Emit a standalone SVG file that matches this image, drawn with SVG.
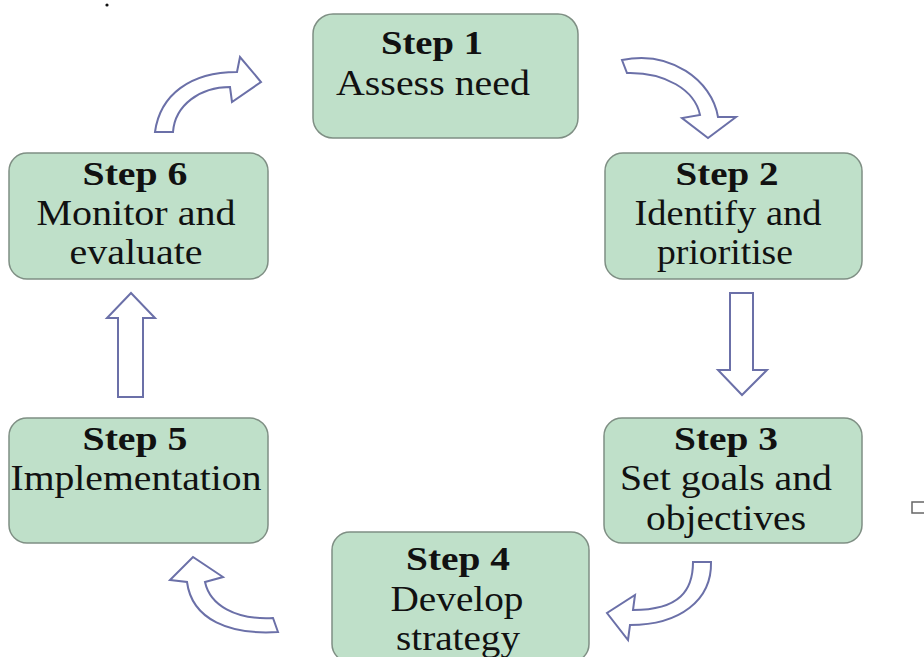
<svg xmlns="http://www.w3.org/2000/svg" width="924" height="657" viewBox="0 0 924 657">
<style>
.box{fill:#bfe0c9;stroke:#7f8f84;stroke-width:1.5}
.t{font-family:"Liberation Serif","Times New Roman",serif;fill:#111;text-anchor:middle}
.h{font-weight:bold;font-size:33px}
.r{font-size:36px}
.arr{fill:#fff;stroke:#6b70a8;stroke-width:2;stroke-linejoin:miter}
</style>
<rect width="924" height="657" fill="#fff"/>
<circle cx="107" cy="5" r="1.6" fill="#111"/>
<rect x="912" y="502" width="20" height="11" fill="none" stroke="#666" stroke-width="1.5"/>
<g id="connectors">
<path class="arr" d="M155,132 C160,95 190,72 237,72 L240,57 L261,82 L232,102 L230,87 C200,87 175,105 173,132 Z"/>
<path class="arr" d="M622,60 C670,50 712,80 718,117 L736,117 L708,138 L682,118 L700,115 C695,90 665,72 627,73 Z"/>
<path class="arr" d="M730,293 L753,293 L753,370 L767,370 L742,395 L718,370 L730,370 Z"/>
<path class="arr" d="M693,562 L711,562 C712,600 680,625 630,625 L628,640 L607,613 L635,595 L633,610 C680,610 693,590 693,562 Z"/>
<path class="arr" d="M205,582 L223,577 L193,557 L170,580 L187,582 C192,620 230,635 278,632 L273,618 C235,620 210,605 205,582 Z"/>
<path class="arr" d="M118,397 L143,397 L143,318 L155,318 L131,293 L107,318 L118,318 Z"/>
</g>
<g id="step1">
<rect class="box" x="313" y="14" width="265" height="124" rx="20"/>
<text class="t h" x="432" y="54" textLength="102" lengthAdjust="spacingAndGlyphs">Step 1</text>
<text class="t r" x="433" y="95" textLength="194" lengthAdjust="spacingAndGlyphs">Assess need</text>
</g>
<g id="step2">
<rect class="box" x="605" y="153" width="257" height="126" rx="18"/>
<text class="t h" x="727" y="185" textLength="103" lengthAdjust="spacingAndGlyphs">Step 2</text>
<text class="t r" x="728" y="225" textLength="187" lengthAdjust="spacingAndGlyphs">Identify and</text>
<text class="t r" x="725" y="264" textLength="136" lengthAdjust="spacingAndGlyphs">prioritise</text>
</g>
<g id="step3">
<rect class="box" x="604" y="418" width="258" height="125" rx="18"/>
<text class="t h" x="726" y="450" textLength="104" lengthAdjust="spacingAndGlyphs">Step 3</text>
<text class="t r" x="726" y="490" textLength="212" lengthAdjust="spacingAndGlyphs">Set goals and</text>
<text class="t r" x="726" y="530" textLength="160" lengthAdjust="spacingAndGlyphs">objectives</text>
</g>
<g id="step4">
<rect class="box" x="332" y="532" width="257" height="130" rx="18"/>
<text class="t h" x="458" y="570" textLength="104" lengthAdjust="spacingAndGlyphs">Step 4</text>
<text class="t r" x="457" y="611" textLength="133" lengthAdjust="spacingAndGlyphs">Develop</text>
<text class="t r" x="458" y="650" textLength="124" lengthAdjust="spacingAndGlyphs">strategy</text>
</g>
<g id="step5">
<rect class="box" x="9" y="418" width="259" height="125" rx="18"/>
<text class="t h" x="135" y="450" textLength="105" lengthAdjust="spacingAndGlyphs">Step 5</text>
<text class="t r" x="136" y="490" textLength="251" lengthAdjust="spacingAndGlyphs">Implementation</text>
</g>
<g id="step6">
<rect class="box" x="9" y="153" width="259" height="126" rx="18"/>
<text class="t h" x="135" y="185" textLength="105" lengthAdjust="spacingAndGlyphs">Step 6</text>
<text class="t r" x="136" y="225" textLength="199" lengthAdjust="spacingAndGlyphs">Monitor and</text>
<text class="t r" x="136" y="264" textLength="133" lengthAdjust="spacingAndGlyphs">evaluate</text>
</g>
</svg>
